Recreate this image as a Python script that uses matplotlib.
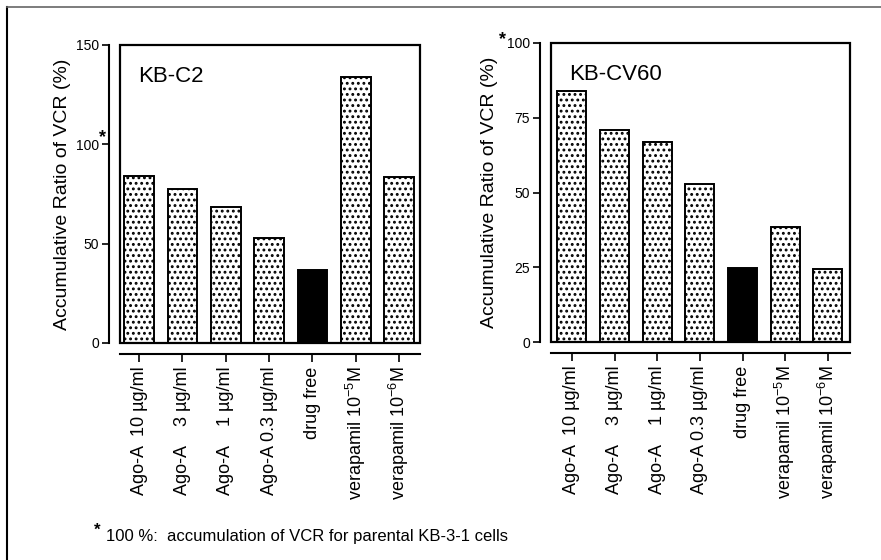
import matplotlib
matplotlib.use("Agg")
import matplotlib.pyplot as plt
from matplotlib.patches import Rectangle
from matplotlib.lines import Line2D

plt.rcParams['font.family'] = ['Liberation Sans', 'DejaVu Sans']
plt.rcParams['mathtext.fontset'] = 'custom'
plt.rcParams['mathtext.rm'] = 'Liberation Sans'
plt.rcParams['hatch.linewidth'] = 1.3

categories = ["Ago-A  10 µg/ml", "Ago-A    3 µg/ml", "Ago-A    1 µg/ml", "Ago-A 0.3 µg/ml",
              "drug free", "verapamil 10$^{-5}$M", "verapamil 10$^{-6}$M"]
kb_c2 = [84, 77.5, 68.5, 53, 36.5, 134, 83.5]
kb_cv60 = [84, 71, 67, 52.7, 24.8, 38.6, 24.3]
kb_c2_ticks = [0, 50, 100, 150]
kb_cv60_ticks = [0, 25, 50, 75, 100]
is_control = [False, False, False, False, True, False, False]
ylabel = "Accumulative Ratio of VCR (%)"

fig = plt.figure(figsize=(8.81, 5.6), dpi=100)

# outer frame lines (left and top)
fig.add_artist(Line2D([7/881, 7/881], [0, 1 - 7/560], transform=fig.transFigure, color='black', lw=1.5))
fig.add_artist(Line2D([7/881, 1], [1 - 7/560, 1 - 7/560], transform=fig.transFigure, color='#666666', lw=1.2))

def panel(rect, values, ticks, title, xlim, label_x):
    ax = fig.add_axes(rect)
    ax.spines['left'].set_position(('outward', 8))
    ax.spines['bottom'].set_position(('outward', 8))
    ax.spines['top'].set_visible(False)
    ax.spines['right'].set_visible(False)
    for s in ['left', 'bottom']:
        ax.spines[s].set_linewidth(1.5)
    x = list(range(len(values)))
    for xi, v, ctrl in zip(x, values, is_control):
        if ctrl:
            ax.bar(xi, v, width=0.68, color='black', edgecolor='black', linewidth=1.4)
        else:
            ax.bar(xi, v, width=0.68, color='white', edgecolor='black', linewidth=1.4, hatch='...')
    ax.set_xlim(*xlim)
    ax.set_ylim(ticks[0], ticks[-1])
    ax.set_yticks(ticks)
    ax.set_yticklabels([str(t) for t in ticks], fontsize=10)
    ax.set_xticks(x)
    ax.set_xticklabels(categories, fontsize=13)
    ax.tick_params(axis='y', direction='out', length=5, width=1.2, pad=2)
    ax.tick_params(axis='x', direction='out', length=6, width=1.2, pad=3, labelrotation=90)
    ax.add_patch(Rectangle((0, 0), 1, 1, transform=ax.transAxes, fill=False,
                           edgecolor='black', linewidth=1.6, clip_on=False, zorder=5))
    ax.text(0.06, 0.93, title, transform=ax.transAxes, fontsize=16, va='top', ha='left')
    ax.set_ylabel(ylabel, fontsize=14, va='center')
    ax.yaxis.set_label_coords(label_x, 0.5)
    return ax

ax1 = panel([120/881, 1 - 343/560, 300/881, 298/560], kb_c2, kb_c2_ticks, "KB-C2", (-0.44, 6.48), -0.19)
ax2 = panel([551/881, 1 - 342/560, 299/881, 299/560], kb_cv60, kb_cv60_ticks, "KB-CV60", (-0.49, 6.52), -0.205)

fig.text(99/881, 1 - 138/560, "*", fontsize=13, ha='left', va='center', weight='bold')
fig.text(499/881, 1 - 40/560, "*", fontsize=13, ha='left', va='center', weight='bold')
fig.text(94/881, 1 - 530/560, "*", fontsize=12, ha='left', va='center', weight='bold')
fig.text(106/881, 1 - 536/560, "100 %:  accumulation of VCR for parental KB-3-1 cells",
         fontsize=12, ha='left', va='center')

fig.savefig("out.png", dpi=100)
